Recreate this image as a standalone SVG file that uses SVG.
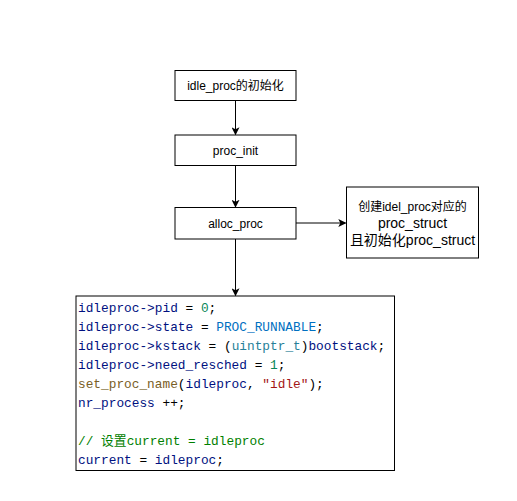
<svg xmlns="http://www.w3.org/2000/svg" width="517" height="501" viewBox="0 0 517 501">
<style>
.box{fill:#fff;stroke:#000;stroke-width:1}
.lbl{font-family:"Liberation Sans","Noto Sans CJK SC",sans-serif;font-size:12px;fill:#000;text-anchor:middle}
.lbl14{font-size:14px}
.code{font-family:"Liberation Mono","Noto Sans CJK SC",monospace;font-size:12.8px;fill:#001080;white-space:pre}
.edge{stroke:#000;stroke-width:1;fill:none}
.op{fill:#000}.num{fill:#098658}.const{fill:#0070c1}.type{fill:#267f99}.fn{fill:#795e26}.str{fill:#a31515}.cmt{fill:#008000}
</style>
<defs>
<marker id="arr" viewBox="0 0 10 10" refX="9" refY="5" markerWidth="8" markerHeight="8" markerUnits="userSpaceOnUse" orient="auto">
<path d="M0,0 L10,5 L0,10 L2.5,5 Z" fill="#000"/>
</marker>
</defs>
<rect width="517" height="501" fill="#fff"/>
<g id="connectors">
<line class="edge" x1="235.5" y1="100" x2="235.5" y2="134.5" marker-end="url(#arr)"/>
<line class="edge" x1="235.5" y1="165.5" x2="235.5" y2="207" marker-end="url(#arr)"/>
<line class="edge" x1="235.5" y1="239" x2="235.5" y2="295.5" marker-end="url(#arr)"/>
<line class="edge" x1="296" y1="223" x2="345.5" y2="223" marker-end="url(#arr)"/>
</g>
<g id="node-idle-init">
<rect class="box" x="175" y="70.5" width="121" height="30"/>
<text class="lbl" x="235.5" y="89.5">idle_proc的初始化</text>
</g>
<g id="node-proc-init">
<rect class="box" x="175" y="135" width="121" height="30.5"/>
<text class="lbl" x="235.5" y="154.5">proc_init</text>
</g>
<g id="node-alloc-proc">
<rect class="box" x="175" y="207.5" width="121" height="31.5"/>
<text class="lbl" x="235.5" y="227.5">alloc_proc</text>
</g>
<g id="node-note">
<rect class="box" x="346.5" y="187" width="132" height="71"/>
<text class="lbl" x="412.5" y="211">创建idel_proc对应的</text>
<text class="lbl lbl14" x="412.5" y="228">proc_struct</text>
<text class="lbl lbl14" x="412.5" y="245">且初始化proc_struct</text>
</g>
<g id="node-code">
<rect class="box" x="76" y="296" width="318.5" height="174.5"/>
<text class="code" x="78" y="312">idleproc-&gt;pid <tspan class="op">=</tspan> <tspan class="num">0</tspan><tspan class="op">;</tspan></text>
<text class="code" x="78" y="331">idleproc-&gt;state <tspan class="op">=</tspan> <tspan class="const">PROC_RUNNABLE</tspan><tspan class="op">;</tspan></text>
<text class="code" x="78" y="350">idleproc-&gt;kstack <tspan class="op">=</tspan> <tspan class="op">(</tspan><tspan class="type">uintptr_t</tspan><tspan class="op">)</tspan>bootstack<tspan class="op">;</tspan></text>
<text class="code" x="78" y="369">idleproc-&gt;need_resched <tspan class="op">=</tspan> <tspan class="num">1</tspan><tspan class="op">;</tspan></text>
<text class="code" x="78" y="388"><tspan class="fn">set_proc_name</tspan><tspan class="op">(</tspan>idleproc<tspan class="op">,</tspan> <tspan class="str">"idle"</tspan><tspan class="op">);</tspan></text>
<text class="code" x="78" y="407">nr_process <tspan class="op">++;</tspan></text>
<text class="code cmt" x="78" y="445">// 设置current = idleproc</text>
<text class="code" x="78" y="464">current <tspan class="op">=</tspan> idleproc<tspan class="op">;</tspan></text>
</g>
</svg>
